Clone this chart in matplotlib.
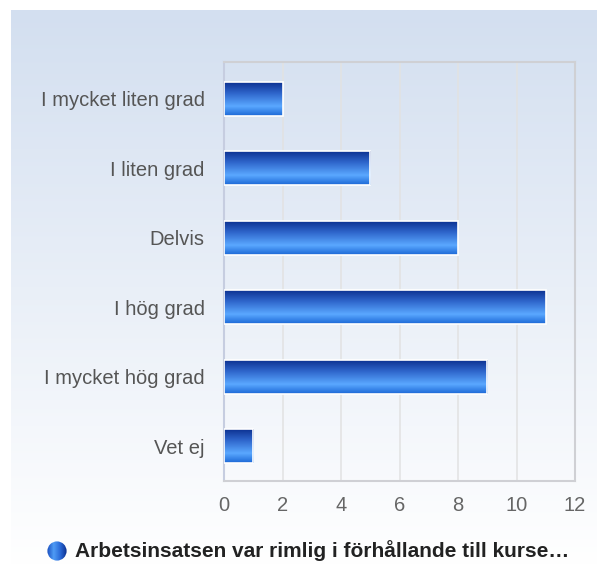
import matplotlib
matplotlib.use("Agg")
import matplotlib.pyplot as plt
import numpy as np
from matplotlib.colors import LinearSegmentedColormap
from matplotlib.patches import Circle

plt.rcParams['font.family'] = ['Liberation Sans', 'DejaVu Sans']

categories = ["I mycket liten grad", "I liten grad", "Delvis", "I hög grad",
              "I mycket hög grad", "Vet ej"]
values = [2, 5, 8, 11, 9, 1]
xticks = [0, 2, 4, 6, 8, 10, 12]
legend_label = "Arbetsinsatsen var rimlig i förhållande till kurse…"

W, H = 597, 565
fig = plt.figure(figsize=(W / 100, H / 100), dpi=100)

# background gradient panel
bg = fig.add_axes([11 / W, 0, 1 - 11 / W, 1 - 10 / H])
bg_cmap = LinearSegmentedColormap.from_list("bg", ["#d3dff0", "#ffffff"])
bg.imshow(np.linspace(0, 1, 256).reshape(-1, 1), aspect="auto", cmap=bg_cmap,
          extent=[0, 1, 0, 1])
bg.set_axis_off()

left, right, top, bottom = 224, 575, 62, 481
ax = fig.add_axes([left / W, 1 - bottom / H, (right - left) / W, (bottom - top) / H])
ax.patch.set_alpha(0)

bar_cmap = LinearSegmentedColormap.from_list(
    "bar", [(0, "#0a2d8c"), (0.35, "#2f66cc"), (0.72, "#5aa8ff"), (1, "#1c68d6")])
grad = np.linspace(0, 1, 100).reshape(-1, 1)

y = np.arange(len(categories))
bars = ax.barh(y, values, height=0.49, color="none", edgecolor="white", linewidth=1.2, zorder=4)
for b in bars:
    x0, y0 = b.get_x(), b.get_y()
    w, h = b.get_width(), b.get_height()
    im = ax.imshow(grad, aspect="auto", cmap=bar_cmap,
                   extent=[x0, x0 + w, y0 + h, y0], zorder=3)
    im.set_clip_path(b)

ax.set_xlim(0, 12)
ax.set_ylim(len(categories) - 0.5, -0.53)
ax.set_xticks(xticks)
ax.set_yticks(y)
ax.set_yticklabels(categories)
ax.tick_params(axis="y", length=0, pad=14, labelsize=14.5, labelcolor="#555555")
ax.tick_params(axis="x", length=0, pad=11, labelsize=14.5, labelcolor="#666666")
ax.grid(axis="x", color="#e2e2e2", linewidth=1.1, zorder=1)
ax.set_axisbelow(True)
for s in ax.spines.values():
    s.set_color("#cfd0d4")
    s.set_linewidth(1.5)
ax.spines["left"].set_color("#c6cde0")

# legend: sphere-like marker
lx, ly, r = 57, 551, 10
mk = fig.add_axes([(lx - r) / W, 1 - (ly + r) / H, 2 * r / W, 2 * r / H])
mk.set_axis_off()
sph = LinearSegmentedColormap.from_list("sph", ["#1a4fc0", "#4f9cf5", "#2a6ad8", "#0c2f8e"])
im = mk.imshow(np.linspace(0, 1, 50).reshape(1, -1), aspect="auto", cmap=sph,
               extent=[0, 1, 0, 1])
c = Circle((0.5, 0.5), 0.48, transform=mk.transData)
im.set_clip_path(c)
mk.set_xlim(0, 1)
mk.set_ylim(0, 1)

fig.text(75 / W, 1 - 551 / H, legend_label, fontsize=15, fontweight="bold",
         color="#222222", ha="left", va="center")

fig.savefig("out.png", dpi=100)
